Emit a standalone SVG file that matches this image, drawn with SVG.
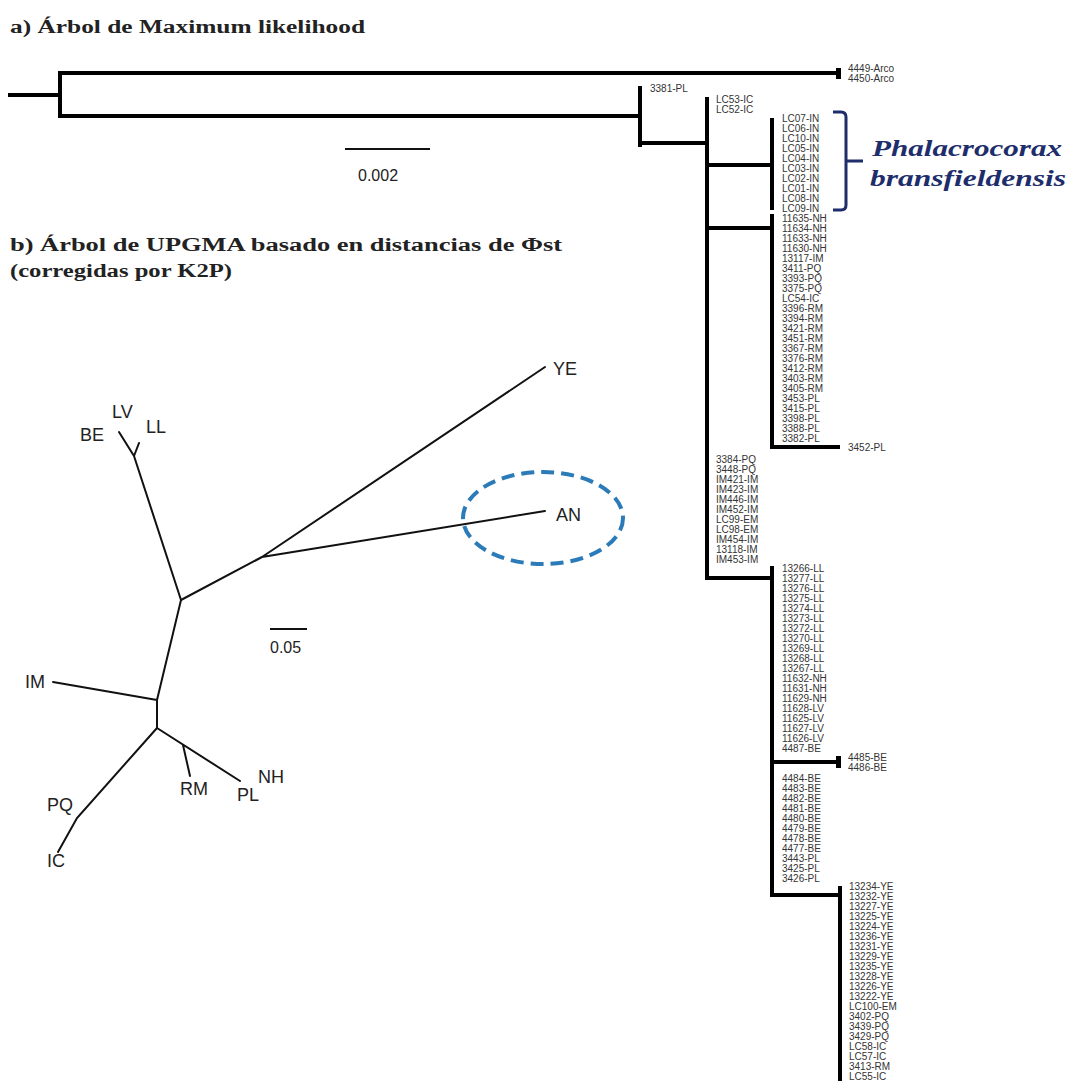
<svg xmlns="http://www.w3.org/2000/svg" width="1076" height="1081" viewBox="0 0 1076 1081">
<style>
.br{stroke:#000;stroke-width:4;fill:none;stroke-linecap:square}
.lb{font-family:"Liberation Sans",Arial,sans-serif;font-size:10px;fill:#333}
.ub{stroke:#111;stroke-width:2;fill:none;stroke-linecap:round}
.ul{font-family:"Liberation Sans",Arial,sans-serif;font-size:18px;fill:#222}
.ttl{font-family:"Liberation Serif","Times New Roman",serif;font-weight:bold;font-size:18.5px;fill:#222}
.sp{font-family:"Liberation Serif","Times New Roman",serif;font-weight:bold;font-style:italic;font-size:23px;fill:#1e2d6b}
.sc{font-family:"Liberation Sans",Arial,sans-serif;font-size:16px;fill:#222}
</style>
<rect width="1076" height="1081" fill="#fff"/>

<g id="titles">
<text class="ttl" x="10" y="33" textLength="355" lengthAdjust="spacingAndGlyphs">a) Árbol de Maximum likelihood</text>
<text class="ttl" x="10" y="251" textLength="552" lengthAdjust="spacingAndGlyphs">b) Árbol de UPGMA basado en distancias de Φst</text>
<text class="ttl" x="10" y="277" textLength="222" lengthAdjust="spacingAndGlyphs">(corregidas por K2P)</text>
</g>

<g id="ml-connectors">
<path class="br" d="M10 95H60M60 73V116M60 73H838M60 116H640M640 88V145M640 143H707M707 99V578"/>
<rect x="836" y="68" width="5" height="11" fill="#000"/>
<path class="br" d="M707 165H772M772 120V208"/>
<path class="br" d="M707 228H772M772 216V447H838"/>
<path class="br" d="M707 578H772M772 568V895H840M772 762H838M840 888V1081"/>
<rect x="836" y="756" width="5" height="12" fill="#000"/>
</g>

<g id="scale-a">
<line x1="345" y1="149" x2="430" y2="149" stroke="#111" stroke-width="2"/>
<text class="sc" x="358" y="181">0.002</text>
</g>

<g id="tips-arco" class="lb">
<text x="848" y="72">4449-Arco</text>
<text x="848" y="82">4450-Arco</text>
</g>
<g id="tip-3381" class="lb"><text x="650" y="92">3381-PL</text></g>
<g id="tips-lc5x" class="lb">
<text x="716" y="102.5">LC53-IC</text>
<text x="716" y="112.5">LC52-IC</text>
</g>
<g id="tips-in" class="lb">
<text x="782" y="121.5">LC07-IN</text>
<text x="782" y="131.5">LC06-IN</text>
<text x="782" y="141.5">LC10-IN</text>
<text x="782" y="151.5">LC05-IN</text>
<text x="782" y="161.5">LC04-IN</text>
<text x="782" y="171.5">LC03-IN</text>
<text x="782" y="181.5">LC02-IN</text>
<text x="782" y="191.5">LC01-IN</text>
<text x="782" y="201.5">LC08-IN</text>
<text x="782" y="211.5">LC09-IN</text>
</g>
<g id="species-label">
<path d="M833 112H841Q846 112 846 117V205Q846 210 841 210H833M846 161H863" stroke="#1e2d6b" stroke-width="3" fill="none"/>
<text class="sp" x="872" y="156" textLength="190" lengthAdjust="spacingAndGlyphs">Phalacrocorax</text>
<text class="sp" x="870" y="186" textLength="196" lengthAdjust="spacingAndGlyphs">bransfieldensis</text>
</g>
<g id="tips-nh" class="lb">
<text x="782" y="221.5">11635-NH</text>
<text x="782" y="231.5">11634-NH</text>
<text x="782" y="241.5">11633-NH</text>
<text x="782" y="251.5">11630-NH</text>
<text x="782" y="261.5">13117-IM</text>
<text x="782" y="271.5">3411-PQ</text>
<text x="782" y="281.5">3393-PQ</text>
<text x="782" y="291.5">3375-PQ</text>
<text x="782" y="301.5">LC54-IC</text>
<text x="782" y="311.5">3396-RM</text>
<text x="782" y="321.5">3394-RM</text>
<text x="782" y="331.5">3421-RM</text>
<text x="782" y="341.5">3451-RM</text>
<text x="782" y="351.5">3367-RM</text>
<text x="782" y="361.5">3376-RM</text>
<text x="782" y="371.5">3412-RM</text>
<text x="782" y="381.5">3403-RM</text>
<text x="782" y="391.5">3405-RM</text>
<text x="782" y="401.5">3453-PL</text>
<text x="782" y="411.5">3415-PL</text>
<text x="782" y="421.5">3398-PL</text>
<text x="782" y="431.5">3388-PL</text>
<text x="782" y="441.5">3382-PL</text>
</g>
<g id="tip-3452" class="lb"><text x="848" y="451">3452-PL</text></g>
<g id="tips-pq" class="lb">
<text x="716" y="463">3384-PQ</text>
<text x="716" y="473">3448-PQ</text>
<text x="716" y="483">IM421-IM</text>
<text x="716" y="493">IM423-IM</text>
<text x="716" y="503">IM446-IM</text>
<text x="716" y="513">IM452-IM</text>
<text x="716" y="523">LC99-EM</text>
<text x="716" y="533">LC98-EM</text>
<text x="716" y="543">IM454-IM</text>
<text x="716" y="553">13118-IM</text>
<text x="716" y="563">IM453-IM</text>
</g>
<g id="tips-ll" class="lb">
<text x="782" y="571.5">13266-LL</text>
<text x="782" y="581.5">13277-LL</text>
<text x="782" y="591.5">13276-LL</text>
<text x="782" y="601.5">13275-LL</text>
<text x="782" y="611.5">13274-LL</text>
<text x="782" y="621.5">13273-LL</text>
<text x="782" y="631.5">13272-LL</text>
<text x="782" y="641.5">13270-LL</text>
<text x="782" y="651.5">13269-LL</text>
<text x="782" y="661.5">13268-LL</text>
<text x="782" y="671.5">13267-LL</text>
<text x="782" y="681.5">11632-NH</text>
<text x="782" y="691.5">11631-NH</text>
<text x="782" y="701.5">11629-NH</text>
<text x="782" y="711.5">11628-LV</text>
<text x="782" y="721.5">11625-LV</text>
<text x="782" y="731.5">11627-LV</text>
<text x="782" y="741.5">11626-LV</text>
<text x="782" y="751.5">4487-BE</text>
</g>
<g id="tips-be2" class="lb">
<text x="848" y="760.5">4485-BE</text>
<text x="848" y="771">4486-BE</text>
</g>
<g id="tips-be" class="lb">
<text x="782" y="781.5">4484-BE</text>
<text x="782" y="791.5">4483-BE</text>
<text x="782" y="801.5">4482-BE</text>
<text x="782" y="811.5">4481-BE</text>
<text x="782" y="821.5">4480-BE</text>
<text x="782" y="831.5">4479-BE</text>
<text x="782" y="841.5">4478-BE</text>
<text x="782" y="851.5">4477-BE</text>
<text x="782" y="861.5">3443-PL</text>
<text x="782" y="871.5">3425-PL</text>
<text x="782" y="881.5">3426-PL</text>
</g>
<g id="tips-ye" class="lb">
<text x="849" y="889.5">13234-YE</text>
<text x="849" y="899.5">13232-YE</text>
<text x="849" y="909.5">13227-YE</text>
<text x="849" y="919.5">13225-YE</text>
<text x="849" y="929.5">13224-YE</text>
<text x="849" y="939.5">13236-YE</text>
<text x="849" y="949.5">13231-YE</text>
<text x="849" y="959.5">13229-YE</text>
<text x="849" y="969.5">13235-YE</text>
<text x="849" y="979.5">13228-YE</text>
<text x="849" y="989.5">13226-YE</text>
<text x="849" y="999.5">13222-YE</text>
<text x="849" y="1009.5">LC100-EM</text>
<text x="849" y="1019.5">3402-PQ</text>
<text x="849" y="1029.5">3439-PQ</text>
<text x="849" y="1039.5">3429-PQ</text>
<text x="849" y="1049.5">LC58-IC</text>
<text x="849" y="1059.5">LC57-IC</text>
<text x="849" y="1069.5">3413-RM</text>
<text x="849" y="1079.5">LC55-IC</text>
</g>

<g id="upgma-connectors" class="ub">
<path d="M181 600L134 456M134 456L119 432M134 456L139 443"/>
<path d="M181 600L262 557M262 557L545 367M262 557L545 511"/>
<path d="M181 600L157 700M157 700L53 682M157 700V728"/>
<path d="M157 728L77 818L58 852"/>
<path d="M157 728L240 781M183 745L190 776"/>
</g>
<ellipse id="an-highlight" cx="543" cy="518" rx="80" ry="46" fill="none" stroke="#2b7bb9" stroke-width="4" stroke-dasharray="13 7"/>
<g id="upgma-labels" class="ul">
<text id="n-ye" x="553" y="375">YE</text>
<text id="n-an" x="556" y="521">AN</text>
<text id="n-lv" x="112" y="418">LV</text>
<text id="n-be" x="80" y="441">BE</text>
<text id="n-ll" x="146" y="433">LL</text>
<text id="n-im" x="25" y="688">IM</text>
<text id="n-pq" x="47" y="811">PQ</text>
<text id="n-ic" x="47" y="867">IC</text>
<text id="n-rm" x="180" y="795">RM</text>
<text id="n-pl" x="237" y="801">PL</text>
<text id="n-nh" x="258" y="783">NH</text>
</g>
<g id="scale-b">
<line x1="270" y1="629" x2="307" y2="629" stroke="#111" stroke-width="2"/>
<text class="sc" x="270" y="653">0.05</text>
</g>
</svg>
